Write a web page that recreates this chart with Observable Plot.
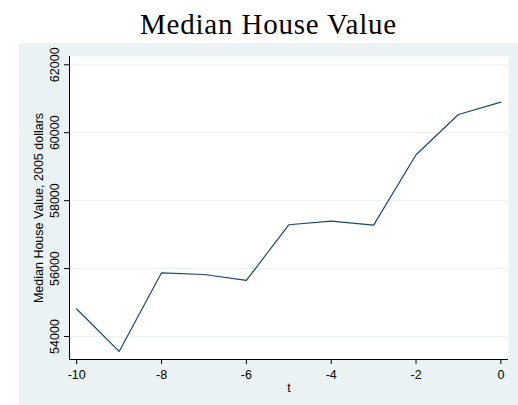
<!DOCTYPE html>
<html><head><meta charset="utf-8">
<script src="https://cdn.jsdelivr.net/npm/d3@7"></script>
<script src="https://cdn.jsdelivr.net/npm/@observablehq/plot@0.6"></script>
<style>
body{margin:0;background:#fff;width:518px;height:405px;overflow:hidden}
#title{margin-left:19px;width:499px;height:43px;box-sizing:border-box;padding-top:10px;text-align:center;font-family:"Liberation Serif",serif;font-size:29px;line-height:28px;color:#000;letter-spacing:0.8px;white-space:nowrap}
#chart{margin-left:19px;height:362px}
#chart svg{display:block}
</style></head><body>
<div id="title">Median House Value</div>
<div id="chart"></div>
<script>
const t = [-10, -9, -8, -7, -6, -5, -4, -3, -2, -1, 0];
const value = [54810, 53560, 55875, 55825, 55650, 57290, 57395, 57280, 59350, 60535, 60900];
const xTicks = [-10, -8, -6, -4, -2, 0];
const yTicks = [54000, 56000, 58000, 60000, 62000];
const xDomain = [-10.17, 0.18];
const yDomain = [53323, 62244];
const xLabel = "t";
const yLabel = "Median House Value, 2005 dollars";
const data = t.map((d, i) => ({t: d, value: value[i]}));
const fmt = d => String(d);

const chart = Plot.plot({
  width: 499, height: 362,
  marginLeft: 50, marginRight: 10, marginTop: 13, marginBottom: 46,
  style: {background: "#eaf2f3", fontFamily: "'Liberation Sans', Arial, sans-serif", fontSize: "12.5px", color: "#000"},
  x: {domain: xDomain},
  y: {domain: yDomain},
  marks: [
    Plot.frame({fill: "white", stroke: null}),
    Plot.gridY(yTicks, {stroke: "#eaf2f3", strokeOpacity: 1, strokeWidth: 1}),
    Plot.line(data, {x: "t", y: "value", stroke: "#1a476f", strokeWidth: 1.2}),
    Plot.ruleX([xDomain[0]], {stroke: "#000", strokeWidth: 1}),
    Plot.ruleY([yDomain[0]], {stroke: "#000", strokeWidth: 1}),
    Plot.axisX(xTicks, {tickSize: 5, tickPadding: 6, tickFormat: fmt, fontSize: 12.5, label: xLabel, labelAnchor: "center", labelOffset: 32, labelArrow: false}),
    Plot.axisY(yTicks, {tickSize: 5, tickPadding: 6, tickRotate: -90, tickFormat: fmt, fontSize: 12.5, label: yLabel, labelAnchor: "center", labelOffset: 35, labelArrow: false})
  ]
});
document.getElementById("chart").appendChild(chart);
</script>
</body></html>
